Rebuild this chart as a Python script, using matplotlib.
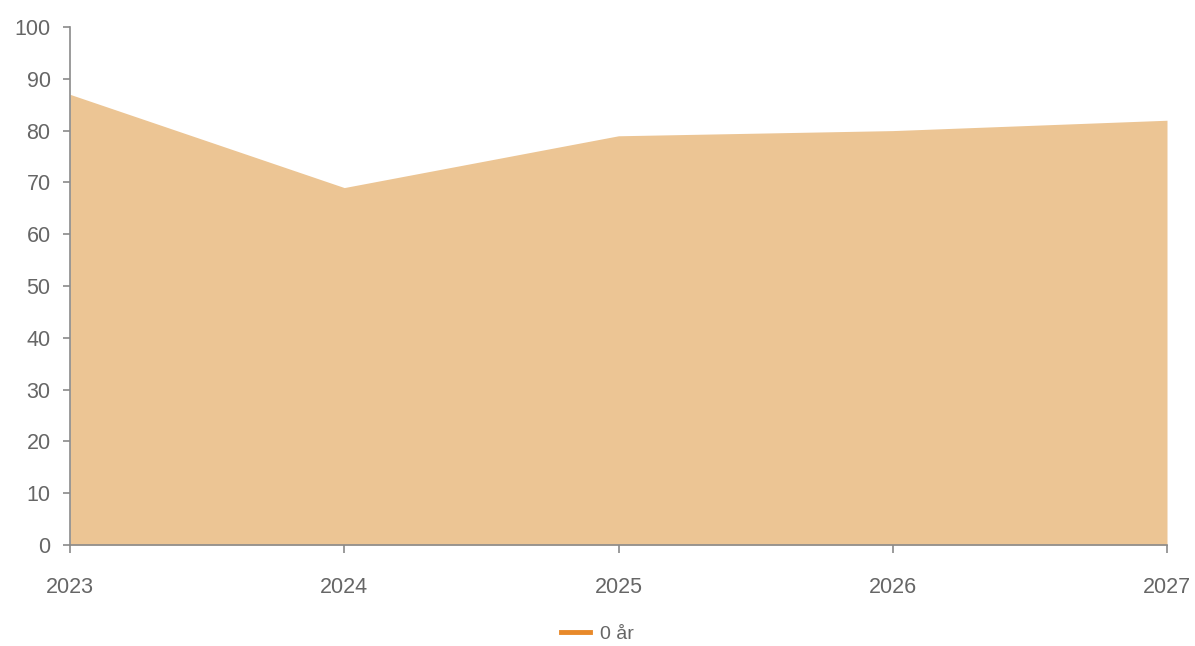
import matplotlib.pyplot as plt
from matplotlib.lines import Line2D

# -----------------------------
# Data
# -----------------------------
years = [2023, 2024, 2025, 2026, 2027]
values = [87, 69, 79, 80, 82]
series_name = "0 år"

fill_color = "#ECC594"
legend_color = "#E8892A"
axis_color = "#8a8a8a"
text_color = "#666666"

plt.rcParams['font.family'] = ['Liberation Sans', 'DejaVu Sans']

fig = plt.figure(figsize=(11.95, 6.46), dpi=100)
ax = fig.add_axes([70 / 1195, 1 - 545 / 646, 1097 / 1195, 518 / 646])

ax.fill_between(years, values, 0, color=fill_color, linewidth=0)

ax.set_xlim(years[0], years[-1])
ax.set_ylim(0, 100)
ax.set_xticks(years)
ax.set_yticks(range(0, 101, 10))

for side in ['top', 'right']:
    ax.spines[side].set_visible(False)
for side in ['left', 'bottom']:
    ax.spines[side].set_color(axis_color)
    ax.spines[side].set_linewidth(1.2)

ax.tick_params(axis='y', length=5, width=1.2, color=axis_color,
               labelcolor=text_color, labelsize=15.5, pad=9)
ax.tick_params(axis='x', length=6, width=1.2, color=axis_color,
               labelcolor=text_color, labelsize=15.5, pad=17)

handle = Line2D([0], [0], color=legend_color, linewidth=3.5)
fig.legend([handle], [series_name], loc='center', bbox_to_anchor=(0.5, 1 - 634 / 646),
           frameon=False, fontsize=14, labelcolor=text_color,
           handlelength=1.5, handletextpad=0.5)

fig.savefig("out.png", dpi=100)
